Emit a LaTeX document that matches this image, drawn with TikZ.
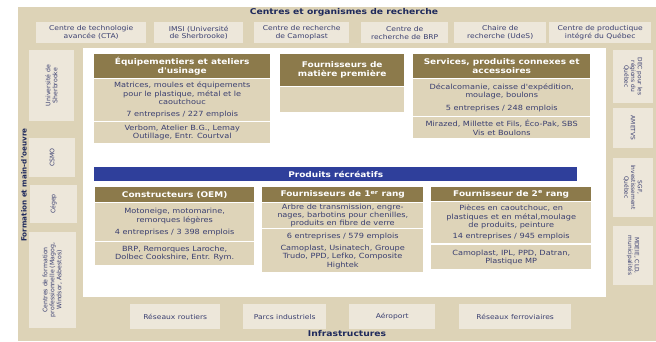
\documentclass[tikz,border=0pt]{standalone}
\usepackage{fontspec}
\setmainfont{DejaVu Sans}
\newfontfamily\widefont[FakeStretch=1.15]{DejaVu Sans}
\definecolor{frametan}{HTML}{DDD3B7}
\definecolor{cream}{HTML}{EDE7DA}
\definecolor{hdrbrown}{HTML}{8C7A4B}
\definecolor{bodytan}{HTML}{DED4B9}
\definecolor{barblue}{HTML}{2F3F9B}
\definecolor{navytext}{HTML}{3A3F70}
\definecolor{titlenavy}{HTML}{1F2A5C}
\begin{document}
\begin{tikzpicture}[x=1pt,y=-1pt,
  lightbox/.style={fill=cream,draw=none,text=navytext,align=center,inner sep=0pt,anchor=north west,font=\widefont\fontsize{6.6}{7.7}\selectfont},
  sidebox/.style={fill=cream,draw=none,text=navytext,align=center,inner sep=0pt,font=\fontsize{6.2}{7}\selectfont},
  rsidebox/.style={sidebox,font=\fontsize{5.9}{6.8}\selectfont},
  hdr/.style={fill=hdrbrown,draw=none,text=white,align=center,inner sep=0pt,anchor=north west,font=\widefont\bfseries\fontsize{7.8}{9}\selectfont},
  bodybox/.style={fill=bodytan,draw=none,text=navytext,align=center,inner sep=0pt,anchor=north west,font=\widefont\fontsize{7.1}{8.3}\selectfont},
  bandtitle/.style={text=titlenavy,inner sep=0pt,font=\widefont\bfseries\fontsize{8}{9}\selectfont}
]
\useasboundingbox (0,0) rectangle (656,341);
% frame
\fill[frametan] (18,7) rectangle (656,341);
\fill[white] (83,48) rectangle (606,297);

% top band
\node[bandtitle] (ttitle) at (344,12) {Centres et organismes de recherche};
\node[lightbox,minimum width=110pt,minimum height=21pt] (t1) at (36,22) {Centre de technologie\\avancée (CTA)};
\node[lightbox,minimum width=89pt,minimum height=21pt] (t2) at (154,22) {IMSI (Université\\de Sherbrooke)};
\node[lightbox,minimum width=95pt,minimum height=21pt] (t3) at (254,22) {Centre de recherche\\de Camoplast};
\node[lightbox,minimum width=87pt,minimum height=21pt] (t4) at (361,22) {Centre de\\recherche de BRP};
\node[lightbox,minimum width=92pt,minimum height=21pt] (t5) at (454,22) {Chaire de\\recherche (UdeS)};
\node[lightbox,minimum width=102pt,minimum height=21pt] (t6) at (549,22) {Centre de productique\\intégré du Québec};

% left column
\node[bandtitle,rotate=90,font=\bfseries\fontsize{7.2}{8}\selectfont] (ltitle) at (24,185) {Formation et main-d'oeuvre};
\node[sidebox,rotate=90,minimum width=71pt,minimum height=45pt] (l1) at (51.5,85.5) {Université de\\Sherbrooke};
\node[sidebox,rotate=90,minimum width=39pt,minimum height=46pt] (l2) at (52,157.5) {CSMO};
\node[sidebox,rotate=90,minimum width=38pt,minimum height=47pt] (l3) at (53.5,204) {Cégep};
\node[sidebox,rotate=90,minimum width=96pt,minimum height=47pt] (l4) at (52.5,280) {Centres de formation\\professionnelle (Magog,\\Windsor, Asbestos)};

% right column
\node[rsidebox,rotate=-90,minimum width=53pt,minimum height=40pt] (r1) at (633,76.5) {DEC pour les\\régions du\\Québec};
\node[rsidebox,rotate=-90,minimum width=40pt,minimum height=40pt] (r2) at (633,128) {AMETVS};
\node[rsidebox,rotate=-90,minimum width=59pt,minimum height=40pt] (r3) at (633,187.5) {SGF,\\Investissement\\Québec};
\node[rsidebox,rotate=-90,minimum width=59pt,minimum height=40pt] (r4) at (633,255.5) {MDEIE, CLD,\\municipalités};

% bottom band
\node[lightbox,minimum width=90pt,minimum height=25pt] (b1) at (130,304) {Réseaux routiers};
\node[lightbox,minimum width=83pt,minimum height=25pt] (b2) at (243,304) {Parcs industriels};
\node[lightbox,minimum width=86pt,minimum height=25pt] (b3) at (349,304) {Aéroport};
\node[lightbox,minimum width=112pt,minimum height=25pt] (b4) at (459,304) {Réseaux ferroviaires};
\node[bandtitle] (btitle) at (347,334) {Infrastructures};

% top row
\node[hdr,minimum width=176pt,minimum height=24pt] (c1h) at (94,54) {Équipementiers et ateliers\\d'usinage};
\node[bodybox,minimum width=176pt,minimum height=42pt] (c1b) at (94,79) {Matrices, moules et équipements\\pour le plastique, métal et le\\caoutchouc\\[4pt]7 entreprises / 227 emplois};
\node[bodybox,minimum width=176pt,minimum height=21pt] (c1c) at (94,122) {Verbom, Atelier B.G., Lemay\\Outillage, Entr. Courtval};

\node[hdr,minimum width=124pt,minimum height=32pt] (c2h) at (280,54) {Fournisseurs de\\matière première};
\node[bodybox,minimum width=124pt,minimum height=25pt] (c2b) at (280,87) {};

\node[hdr,minimum width=177pt,minimum height=24pt] (c3h) at (413,54) {Services, produits connexes et\\accessoires};
\node[bodybox,minimum width=177pt,minimum height=37pt] (c3b) at (413,79) {Décalcomanie, caisse d'expédition,\\moulage, boulons\\[4pt]5 entreprises / 248 emplois};
\node[bodybox,minimum width=177pt,minimum height=21pt] (c3c) at (413,117) {Mirazed, Millette et Fils, Éco-Pak, SBS\\Vis et Boulons};

% bar
\node[fill=barblue,text=white,inner sep=0pt,anchor=north west,minimum width=483pt,minimum height=14pt,font=\widefont\bfseries\fontsize{7.8}{9}\selectfont] (bar) at (94,167) {Produits récréatifs};

% bottom row
\node[hdr,minimum width=159pt,minimum height=15pt] (cAh) at (95,187) {Constructeurs (OEM)};
\node[bodybox,minimum width=159pt,minimum height=38pt] (cAb) at (95,203) {Motoneige, motomarine,\\remorques légères\\[4pt]4 entreprises / 3 398 emplois};
\node[bodybox,minimum width=159pt,minimum height=23pt] (cAc) at (95,242) {BRP, Remorques Laroche,\\Dolbec Cookshire, Entr. Rym.};

\node[hdr,minimum width=161pt,minimum height=15pt] (cBh) at (262,187) {Fournisseurs de 1\textsuperscript{er} rang};
\node[bodybox,minimum width=161pt,minimum height=25pt] (cBb) at (262,203) {Arbre de transmission, engre-\\nages, barbotins pour chenilles,\\produits en fibre de verre};
\node[bodybox,minimum width=161pt,minimum height=43pt] (cBc) at (262,229) {6 entreprises / 579 emplois\\[4pt]Camoplast, Usinatech, Groupe\\Trudo, PPD, Lefko, Composite\\Hightek};

\node[hdr,minimum width=160pt,minimum height=14pt] (cCh) at (431,187) {Fournisseur de 2\textsuperscript{e} rang};
\node[bodybox,minimum width=160pt,minimum height=41pt] (cCb) at (431,202) {Pièces en caoutchouc, en\\plastiques et en métal,moulage\\de produits, peinture\\[3pt]14 entreprises / 945 emplois};
\node[bodybox,minimum width=160pt,minimum height=24pt] (cCc) at (431,245) {Camoplast, IPL, PPD, Datran,\\Plastique MP};
\end{tikzpicture}
\end{document}
